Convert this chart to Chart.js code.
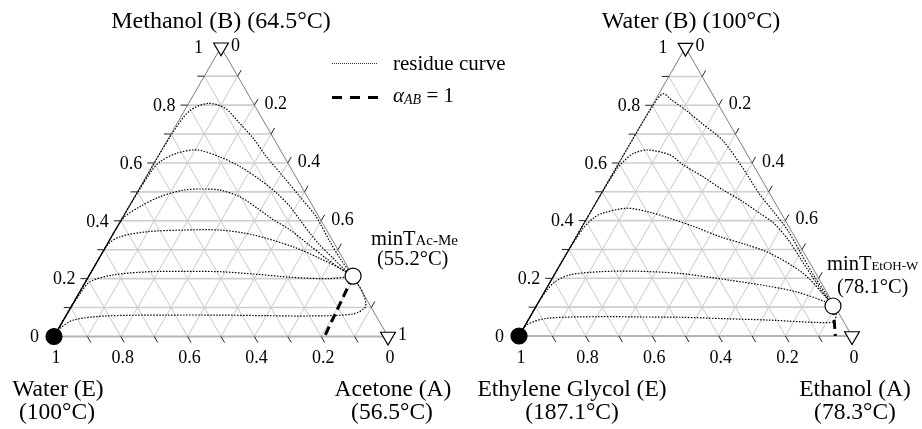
<!DOCTYPE html>
<html>
<head>
<meta charset="utf-8">
<script src="https://cdn.jsdelivr.net/npm/chart.js@4"></script>
<style>
  html, body { margin: 0; padding: 0; background: #fff; }
  canvas { display: block; }
</style>
</head>
<body>
<canvas id="chart" width="922" height="429"></canvas>
<script>
// compositions are [xA, xB]; xE = 1 - xA - xB

// tick values along the edges
const gridSteps = [0.1, 0.2, 0.3, 0.4, 0.5, 0.6, 0.7, 0.8, 0.9];
const leftAxisTicks = [0, 0.2, 0.4, 0.6, 0.8, 1];      // x_B
const bottomAxisTicks = [1, 0.8, 0.6, 0.4, 0.2, 0];    // x_E
const rightAxisTicksAc = [0, 0.2, 0.4, 0.6, 1];        // x_A, acetone system
const rightAxisTicksEt = [0, 0.2, 0.4, 0.6];           // x_A, ethanol system

// acetone (A) / methanol (B) / water (E)
const acAzeotrope = [0.791, 0.209];
const acCurve1 = [[0, 0], [0, 0.25], [0, 0.50], [0.003, 0.70], [0.016, 0.78], [0.059, 0.806], [0.118, 0.789], [0.181, 0.742], [0.254, 0.685], [0.326, 0.621], [0.411, 0.552], [0.495, 0.483], [0.578, 0.414], [0.66, 0.33], [0.73, 0.262], [0.791, 0.209]];
const acCurve2 = [[0, 0], [0, 0.20], [0, 0.40], [0.005, 0.564], [0.015, 0.604], [0.05, 0.633], [0.105, 0.645], [0.186, 0.621], [0.264, 0.587], [0.347, 0.541], [0.42, 0.495], [0.482, 0.449], [0.535, 0.403], [0.587, 0.358], [0.638, 0.316], [0.70, 0.271], [0.747, 0.237], [0.791, 0.209]];
const acCurve3 = [[0, 0], [0, 0.15], [0, 0.30], [0.003, 0.409], [0.033, 0.449], [0.075, 0.483], [0.134, 0.506], [0.192, 0.51], [0.244, 0.506], [0.315, 0.483], [0.398, 0.437], [0.456, 0.403], [0.52, 0.37], [0.60, 0.32], [0.68, 0.27], [0.745, 0.232], [0.791, 0.209]];
const acCurve4 = [[0, 0], [0, 0.12], [0, 0.24], [0.003, 0.32], [0.025, 0.345], [0.097, 0.362], [0.203, 0.368], [0.313, 0.368], [0.422, 0.351], [0.561, 0.31], [0.661, 0.27], [0.751, 0.23], [0.791, 0.209]];
const acCurve5 = [[0, 0], [0, 0.08], [0.004, 0.149], [0.013, 0.189], [0.071, 0.213], [0.175, 0.224], [0.28, 0.225], [0.385, 0.224], [0.50, 0.215], [0.606, 0.205], [0.72, 0.20], [0.791, 0.209]];
const acCurve6 = [[0, 0], [0.005, 0.03], [0.03, 0.057], [0.122, 0.071], [0.30, 0.074], [0.46, 0.074], [0.60, 0.072], [0.731, 0.071], [0.857, 0.078], [0.881, 0.103], [0.851, 0.149], [0.811, 0.189], [0.791, 0.209]];
const acAlphaLine = [[0.791, 0.209], [0.81, 0]];

// ethanol (A) / water (B) / ethylene glycol (E)
const etAzeotrope = [0.891, 0.104];
const etCurve1 = [[0, 0], [0, 0.30], [0, 0.60], [0.003, 0.80], [0.012, 0.84], [0.05, 0.818], [0.108, 0.784], [0.181, 0.737], [0.27, 0.68], [0.376, 0.587], [0.473, 0.495], [0.55, 0.43], [0.62, 0.37], [0.70, 0.29], [0.78, 0.21], [0.85, 0.145], [0.891, 0.104]];
const etCurve2 = [[0, 0], [0, 0.25], [0, 0.45], [0.004, 0.58], [0.011, 0.604], [0.027, 0.633], [0.065, 0.645], [0.139, 0.628], [0.197, 0.593], [0.277, 0.552], [0.36, 0.506], [0.428, 0.472], [0.511, 0.425], [0.568, 0.392], [0.64, 0.335], [0.72, 0.26], [0.80, 0.185], [0.891, 0.104]];
const etCurve3 = [[0, 0], [0, 0.15], [0, 0.28], [0.006, 0.373], [0.02, 0.41], [0.036, 0.425], [0.102, 0.443], [0.175, 0.43], [0.249, 0.408], [0.34, 0.378], [0.432, 0.344], [0.52, 0.318], [0.61, 0.287], [0.745, 0.217], [0.859, 0.131], [0.891, 0.104]];
const etCurve4 = [[0, 0], [0, 0.06], [0, 0.12], [0.005, 0.16], [0.014, 0.188], [0.047, 0.212], [0.132, 0.223], [0.23, 0.225], [0.374, 0.217], [0.533, 0.194], [0.65, 0.175], [0.753, 0.154], [0.86, 0.119], [0.891, 0.104]];
const etCurve5 = [[0, 0], [0.004, 0.038], [0.052, 0.061], [0.21, 0.067], [0.33, 0.066], [0.451, 0.065], [0.59, 0.06], [0.726, 0.055], [0.87, 0.047], [0.92, 0.05], [0.915, 0.075], [0.891, 0.104]];
const etAlphaLine = [[0.891, 0.104], [0.95, 0]];

// page layout (pixels, y measured up from the bottom)
const SQ = Math.sqrt(3) / 2;
const leftTri = { x0: 54, y0: 92.5, side: 334 };
const rightTri = { x0: 519, y0: 93, side: 333 };
const SERIF = '"Liberation Serif", "Times New Roman", serif';

function toXY(tri, a, b) {
  return { x: tri.x0 + (a + b / 2) * tri.side, y: tri.y0 + b * SQ * tri.side };
}

function curveSet(tri, comps, i) {
  return {
    data: comps.map(([a, b]) => toXY(tri, a, b)),
    showLine: true, borderColor: '#000', borderWidth: 1.2,
    borderDash: [1.5, 1.5], borderDashOffset: i % 3,
    pointRadius: 0, tension: 0.3, order: 2,
  };
}

function alphaSet(tri, comps) {
  return {
    data: comps.map(([a, b]) => toXY(tri, a, b)),
    showLine: true, borderColor: '#000', borderWidth: 3, borderDash: [9, 5],
    pointRadius: 0, tension: 0, order: 1,
  };
}

function markerSet(tri, comp, style, fill) {
  return {
    data: [toXY(tri, comp[0], comp[1])],
    showLine: false, pointStyle: style, rotation: style === 'triangle' ? 180 : 0,
    pointRadius: style === 'triangle' ? 8.5 : 8, backgroundColor: fill,
    borderColor: '#000', borderWidth: 1.2, order: 0,
  };
}

const datasets = [
  markerSet(leftTri, [0, 0], 'circle', '#000'),
  markerSet(leftTri, acAzeotrope, 'circle', '#fff'),
  markerSet(leftTri, [0, 1], 'triangle', '#fff'),
  markerSet(leftTri, [1, 0], 'triangle', '#fff'),
  markerSet(rightTri, [0, 0], 'circle', '#000'),
  markerSet(rightTri, etAzeotrope, 'circle', '#fff'),
  markerSet(rightTri, [0, 1], 'triangle', '#fff'),
  markerSet(rightTri, [1, 0], 'triangle', '#fff'),
  alphaSet(leftTri, acAlphaLine),
  alphaSet(rightTri, etAlphaLine),
];
[acCurve1, acCurve2, acCurve3, acCurve4, acCurve5, acCurve6].forEach((c, i) => datasets.push(curveSet(leftTri, c, i)));
[etCurve1, etCurve2, etCurve3, etCurve4, etCurve5].forEach((c, i) => datasets.push(curveSet(rightTri, c, i)));

function drawRich(ctx, parts, x, y) {
  ctx.textAlign = 'left';
  ctx.textBaseline = 'alphabetic';
  for (const p of parts) {
    ctx.font = `${p.italic ? 'italic ' : ''}${p.size}px ${SERIF}`;
    ctx.fillText(p.t, x, y + (p.dy || 0));
    x += ctx.measureText(p.t).width;
  }
}

function drawText(ctx, t, x, y, size, align) {
  ctx.font = `${size}px ${SERIF}`;
  ctx.textAlign = align || 'center';
  ctx.textBaseline = 'alphabetic';
  ctx.fillText(t, x, y);
}

const ternaryPlugin = {
  id: 'ternary',
  beforeDatasetsDraw(chart) {
    const ctx = chart.ctx;
    const xs = chart.scales.x, ys = chart.scales.y;
    const pix = p => [xs.getPixelForValue(p.x), ys.getPixelForValue(p.y)];
    const seg = (p, q) => {
      const [x1, y1] = pix(p), [x2, y2] = pix(q);
      ctx.beginPath(); ctx.moveTo(x1, y1); ctx.lineTo(x2, y2); ctx.stroke();
    };
    const off = (p, dx, dy, len) => ({ x: p.x + dx * len, y: p.y + dy * len });
    ctx.save();
    for (const tri of [leftTri, rightTri]) {
      ctx.strokeStyle = '#c8c8c8';
      ctx.lineWidth = 1;
      for (const f of gridSteps) {
        seg(toXY(tri, f, 0), toXY(tri, f, 1 - f));
        seg(toXY(tri, 1 - f, 0), toXY(tri, 0, 1 - f));
      }
      ctx.strokeStyle = '#cdcdcd';
      ctx.lineWidth = 1.6;
      for (const f of gridSteps) seg(toXY(tri, 0, f), toXY(tri, 1 - f, f));
      // frame
      ctx.strokeStyle = '#b4b4b4';
      ctx.lineWidth = 2;
      seg(toXY(tri, 0, 0), toXY(tri, 1, 0));
      ctx.strokeStyle = '#7c7c7c';
      ctx.lineWidth = 1;
      seg(toXY(tri, 0, 0), toXY(tri, 0, 1));
      seg(toXY(tri, 1, 0), toXY(tri, 0, 1));
      // ticks
      ctx.strokeStyle = '#222';
      ctx.lineWidth = 1;
      for (const f of gridSteps) {
        const l = toXY(tri, 0, f);
        seg(l, off(l, -1, 0, 7));
        const r = toXY(tri, f, 1 - f);
        seg(r, off(r, 0.5, SQ, 7));
        const b = toXY(tri, 1 - f, 0);
        seg(b, off(b, 0.5, -SQ, 7));
      }
    }
    ctx.restore();
  },
  afterDatasetsDraw(chart) {
    const ctx = chart.ctx;
    const xs = chart.scales.x, ys = chart.scales.y;
    const pix = p => [xs.getPixelForValue(p.x), ys.getPixelForValue(p.y)];
    ctx.save();
    ctx.fillStyle = '#000';

    const axisLabels = (tri, rightVals) => {
      ctx.font = `18px ${SERIF}`;
      ctx.textBaseline = 'middle';
      for (const v of leftAxisTicks) {
        const [x, y] = pix(toXY(tri, 0, v));
        const gap = v === 1 ? 18 : (v === 0 ? 15 : 12);
        ctx.textAlign = 'right';
        ctx.fillText(String(v), x - gap, y + 1);
      }
      for (const v of rightVals) {
        const [x, y] = pix(toXY(tri, v, 1 - v));
        ctx.textAlign = 'left';
        ctx.fillText(String(v), x + 10, y - 1);
      }
      for (const v of bottomAxisTicks) {
        const [x, y] = pix(toXY(tri, 1 - v, 0));
        ctx.textAlign = 'center';
        ctx.fillText(String(v), x + 2, y + 22);
      }
    };
    axisLabels(leftTri, rightAxisTicksAc);
    axisLabels(rightTri, rightAxisTicksEt);

    // component names
    drawText(ctx, 'Methanol (B) (64.5°C)', 221, 28, 24);
    drawText(ctx, 'Water (E)', 58, 396, 23.5);
    drawText(ctx, '(100°C)', 57, 419, 23.5);
    drawText(ctx, 'Acetone (A)', 393, 396, 23.5);
    drawText(ctx, '(56.5°C)', 392, 419, 23.5);
    drawText(ctx, 'Water (B) (100°C)', 691, 28, 24);
    drawText(ctx, 'Ethylene Glycol (E)', 572, 396, 23.5);
    drawText(ctx, '(187.1°C)', 572, 419, 23.5);
    drawText(ctx, 'Ethanol (A)', 855, 396, 23.5);
    drawText(ctx, '(78.3°C)', 855, 419, 23.5);

    // azeotropes
    drawRich(ctx, [{ t: 'minT', size: 20.5 }, { t: 'Ac-Me', size: 15 }], 371, 245);
    drawText(ctx, '(55.2°C)', 377, 265, 20.5, 'left');
    drawRich(ctx, [{ t: 'minT', size: 20.5 }, { t: 'EtOH-W', size: 13 }], 827, 270);
    drawText(ctx, '(78.1°C)', 837, 293, 20.5, 'left');

    // legend
    ctx.strokeStyle = '#333';
    ctx.lineWidth = 1;
    ctx.setLineDash([1, 1]);
    ctx.beginPath(); ctx.moveTo(332, 63.5); ctx.lineTo(378, 63.5); ctx.stroke();
    ctx.strokeStyle = '#000';
    ctx.lineWidth = 3;
    ctx.setLineDash([10, 8]);
    ctx.beginPath(); ctx.moveTo(332, 97.5); ctx.lineTo(378, 97.5); ctx.stroke();
    ctx.setLineDash([]);
    drawText(ctx, 'residue curve', 393, 70, 21, 'left');
    drawRich(ctx, [
      { t: 'α', size: 21, italic: true },
      { t: 'AB', size: 14, italic: true, dy: 2 },
      { t: ' = 1', size: 21 },
    ], 393, 102);
    ctx.restore();
  },
};

new Chart(document.getElementById('chart'), {
  type: 'scatter',
  data: { datasets },
  options: {
    responsive: false,
    animation: false,
    events: [],
    layout: { padding: 0, autoPadding: false },
    plugins: { legend: { display: false }, tooltip: { enabled: false } },
    scales: {
      x: { type: 'linear', min: 0, max: 922, display: false },
      y: { type: 'linear', min: 0, max: 429, display: false },
    },
  },
  plugins: [ternaryPlugin],
});
</script>
</body>
</html>
